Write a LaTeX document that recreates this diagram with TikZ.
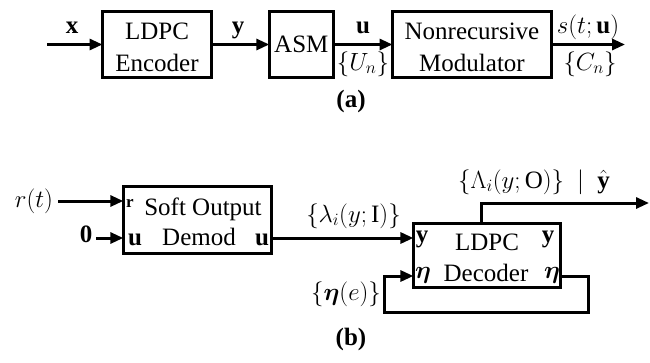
\documentclass[tikz,border=0pt]{standalone}
\usepackage{amsmath,bm}
\usepackage{fontspec}
\setmainfont{Liberation Serif}
\usetikzlibrary{arrows.meta}
\begin{document}
\begin{tikzpicture}[x=1pt,y=-1pt,
  every node/.style={font=\fontsize{25}{30}\selectfont},
  blk/.style={draw, line width=3.2pt, inner sep=0pt, outer sep=0pt},
  wire/.style={line width=3pt},
  arr/.style={wire, -{Triangle[length=13pt,width=11pt]}},
  lbl/.style={inner sep=0pt, anchor=base},
  small/.style={lbl, font=\fontsize{17}{20}\selectfont}]
\useasboundingbox (0,0) rectangle (650,362);
% ---------- (a) ----------
\node[blk, minimum width=109pt, minimum height=66pt] (enc) at (157,44.5) {};
\node[blk, minimum width=64pt, minimum height=66pt] (asm) at (301.3,44.5) {};
\node[blk, minimum width=159pt, minimum height=66pt] (mod) at (472,44.5) {};
\coordinate (xin) at (47,44.5);
\coordinate (sout) at (625,44.5);
\draw[arr] (xin) -- (enc.west);
\draw[arr] (enc.east) -- (asm.west);
\draw[arr] (asm.east) -- (mod.west);
\draw[arr] (mod.east) -- (sout);
\node[lbl] (t1) at (157,39) {LDPC};
\node[lbl] (t2) at (157,71) {Encoder};
\node[lbl] (t3) at (301.3,52) {ASM};
\node[lbl] (t4) at (472,39) {Nonrecursive};
\node[lbl] (t5) at (472,71) {Modulator};
\node[lbl] (lx) at (72,33) {\textbf{x}};
\node[lbl] (ly) at (238,33) {\textbf{y}};
\node[lbl] (lu) at (363,33) {\textbf{u}};
\node[lbl] (lU) at (363,70) {$\{U_n\}$};
\node[lbl] (ls) at (588,33) {$s(t;\textbf{u})$};
\node[lbl] (lC) at (590,70) {$\{C_n\}$};
\node[lbl] (capa) at (351,107) {\textbf{(a)}};
% ---------- (b) ----------
\node[blk, minimum width=148pt, minimum height=67pt] (sod) at (197.3,220) {};
\node[blk, minimum width=147pt, minimum height=64pt] (dec) at (486.9,255.3) {};
\coordinate (rin) at (58,201);
\coordinate (zin) at (96,238);
\coordinate (yl) at (0,238);
\coordinate (el) at (0,276);
\coordinate (fb1) at (588,312);
\coordinate (fb2) at (384,312);
\coordinate (o1) at (481,203);
\coordinate (out) at (649,203);
\draw[arr] (rin) -- (rin -| sod.west);
\draw[arr] (zin) -- (zin -| sod.west);
\draw[arr] (sod.east |- yl) -- (dec.west |- yl);
\draw[arr] (dec.east |- el) -| (fb1) -- (fb2) |- (dec.west |- el);
\draw[arr] (o1 |- dec.north) |- (out);
\node[lbl] (rt) at (34,207) {$r(t)$};
\node[lbl] (z0) at (86,242) {\textbf{0}};
\node[small] (pr) at (130,207) {\textbf{r}};
\node[lbl] (pu1) at (135,245) {\textbf{u}};
\node[lbl] (pu2) at (262,245) {\textbf{u}};
\node[lbl] (t6) at (203,215) {Soft Output};
\node[lbl] (t7) at (199,245) {Demod};
\node[lbl] (llam) at (353.5,222) {$\{\lambda_i(y;\mathrm{I})\}$};
\node[lbl] (py1) at (422,242) {\textbf{y}};
\node[lbl] (py2) at (548,242) {\textbf{y}};
\node[lbl] (pe1) at (423,278) {$\boldsymbol{\eta}$};
\node[lbl] (pe2) at (552,278) {$\boldsymbol{\eta}$};
\node[lbl] (t8) at (487,250) {LDPC};
\node[lbl] (t9) at (486,281) {Decoder};
\node[lbl] (leta) at (346,300) {$\{\boldsymbol{\eta}(e)\}$};
\node[lbl] (lLam) at (534,188) {$\{\Lambda_i(y;\mathrm{O})\}\ \mid\ \hat{\textbf{y}}$};
\node[lbl] (capb) at (351,345) {\textbf{(b)}};
\end{tikzpicture}
\end{document}
